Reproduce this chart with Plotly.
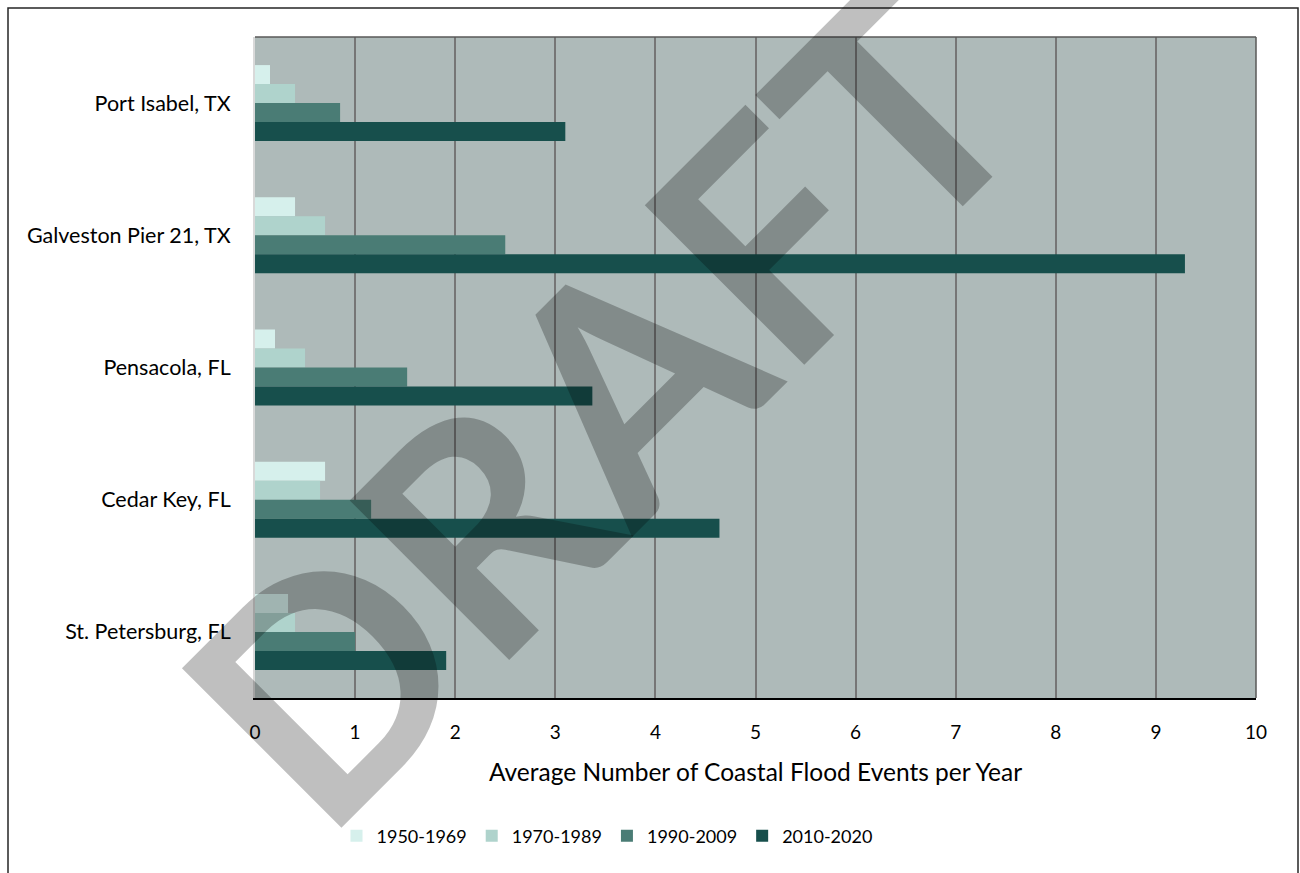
import plotly.graph_objects as go

# Tide-gauge stations (top to bottom) and flood frequency by period
stations = ["Port Isabel, TX", "Galveston Pier 21, TX", "Pensacola, FL",
            "Cedar Key, FL", "St. Petersburg, FL"]
periods = ["1950-1969", "1970-1989", "1990-2009", "2010-2020"]
events_1950_1969 = [0.15, 0.4, 0.2, 0.7, 0.33]
events_1970_1989 = [0.4, 0.7, 0.5, 0.65, 0.4]
events_1990_2009 = [0.85, 2.5, 1.52, 1.16, 1.0]
events_2010_2020 = [3.1, 9.29, 3.37, 4.64, 1.91]
x_ticks = list(range(0, 11))

series = [events_1950_1969, events_1970_1989, events_1990_2009, events_2010_2020]
colors = ["#d6f0ec", "#afd3cc", "#4a7c75", "#174f4c"]

FONT = "Lato, 'Open Sans', sans-serif"

W, H = 1300, 873
L, R, T, B = 255, 44, 37, 175
PW, PH = W - L - R, H - T - B


def px_x(px):
    return (px - L) / PW


def px_y(py):
    return (H - B - py) / PH


fig = go.Figure()
for name, vals, col in zip(periods, series, colors):
    fig.add_trace(go.Bar(
        y=stations, x=vals, name=name, orientation="h",
        marker=dict(color=col, line=dict(width=0)),
    ))

# Plot-area frame (top and right edges) and outer chart border
fig.add_shape(type="line", xref="paper", yref="paper", x0=0, x1=1, y0=1, y1=1,
              line=dict(color="#595959", width=1.5))
fig.add_shape(type="line", xref="paper", yref="paper", x0=1, x1=1, y0=0, y1=1,
              line=dict(color="#595959", width=1.5))
fig.add_shape(type="rect", xref="paper", yref="paper",
              x0=px_x(8), x1=px_x(1298), y0=px_y(920), y1=px_y(8),
              line=dict(color="#262626", width=1.5), fillcolor="rgba(0,0,0,0)")

# Watermark
fig.add_annotation(
    text="DRAFT", xref="paper", yref="paper",
    x=px_x(598), y=px_y(400), xanchor="center", yanchor="middle",
    textangle=-45, showarrow=False,
    font=dict(family=FONT, size=312, color="rgba(0,0,0,0.25)", weight="bold"),
)

fig.update_layout(
    width=W, height=H,
    margin=dict(l=L, r=R, t=T, b=B),
    paper_bgcolor="white",
    plot_bgcolor="#aebab9",
    barmode="group", bargap=0.425, bargroupgap=0,
    font=dict(family=FONT, size=18, color="#000000"),
    legend=dict(
        orientation="h", x=px_x(607), y=px_y(836),
        xanchor="center", yanchor="middle",
        font=dict(size=18), itemwidth=30, traceorder="normal",
    ),
    xaxis=dict(
        range=[0, 10], tickvals=x_ticks, ticktext=[str(v) for v in x_ticks],
        showgrid=True, gridcolor="#767676", gridwidth=1.5,
        showline=True, linecolor="#000000", linewidth=1.5,
        zeroline=False, ticks="", ticklabelstandoff=16,
        tickfont=dict(size=19),
        title=dict(text="Average Number of Coastal Flood Events per Year",
                   font=dict(size=24.5), standoff=22),
    ),
    yaxis=dict(
        categoryorder="array", categoryarray=stations, autorange="reversed",
        showgrid=False, showline=True, linecolor="#d9d9d9", linewidth=2,
        ticks="", ticklabelstandoff=18, tickfont=dict(size=21.5),
    ),
)

fig.write_html("out.html")
